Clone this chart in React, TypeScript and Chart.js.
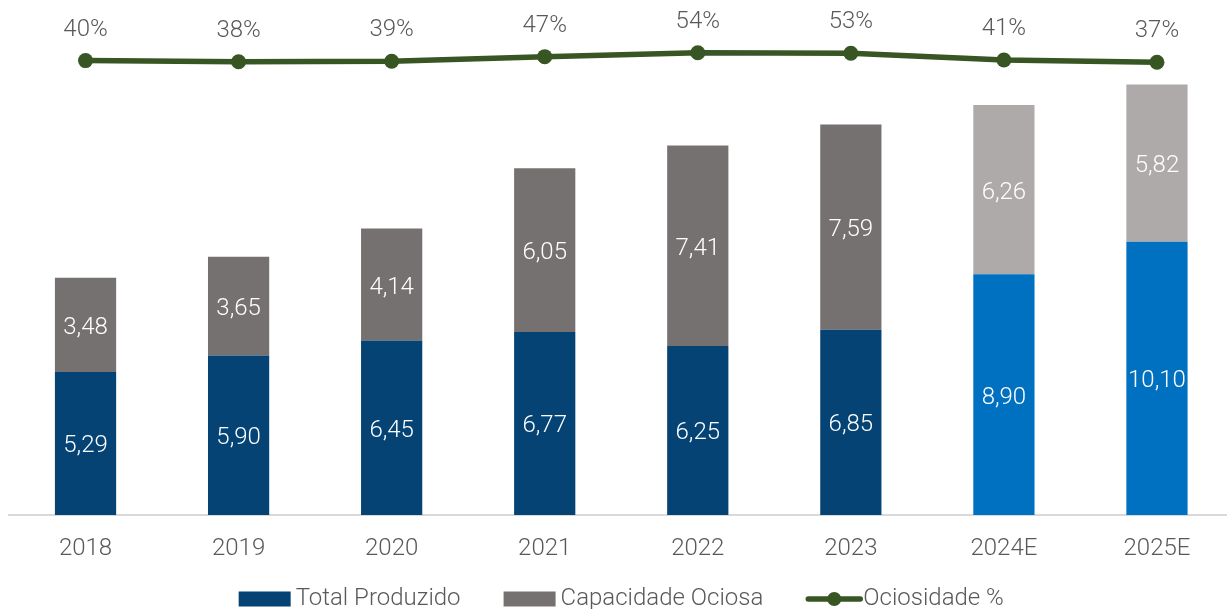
import React, { useEffect, useRef } from 'react';
import { Chart, registerables } from 'chart.js';

Chart.register(...registerables);

// ---- data ----
const categories = ['2018', '2019', '2020', '2021', '2022', '2023', '2024E', '2025E'];
const totalProduzido = [5.29, 5.9, 6.45, 6.77, 6.25, 6.85, 8.9, 10.1];
const capacidadeOciosa = [3.48, 3.65, 4.14, 6.05, 7.41, 7.59, 6.26, 5.82];
const ociosidadePct = [40, 38, 39, 47, 54, 53, 41, 37];

// ---- styles ----
const blueColors = ['#044373', '#044373', '#044373', '#044373', '#044373', '#044373', '#0070C0', '#0070C0'];
const grayColors = ['#767171', '#767171', '#767171', '#767171', '#767171', '#767171', '#AEAAAA', '#AEAAAA'];
const lineColor = '#375623';
const textColor = '#595959';
const FONT_FAMILY = 'Roboto';
const FONT_WEIGHT = '300';

const fmt = (v: number) => v.toFixed(2).replace('.', ',');

const labelsPlugin = {
  id: 'valueLabels',
  afterDatasetsDraw(chart: any) {
    const ctx = chart.ctx;
    ctx.save();
    ctx.font = `${FONT_WEIGHT} 24px ${FONT_FAMILY}`;
    ctx.textAlign = 'center';
    ctx.textBaseline = 'middle';
    chart.data.datasets.forEach((ds: any, i: number) => {
      const meta = chart.getDatasetMeta(i);
      meta.data.forEach((el: any, j: number) => {
        const v = ds.data[j] as number;
        if (meta.type === 'bar') {
          const p = el.getProps(['x', 'y', 'base'], true);
          ctx.fillStyle = '#ffffff';
          ctx.fillText(fmt(v), p.x, (p.y + p.base) / 2 + 3);
        } else {
          ctx.fillStyle = textColor;
          ctx.fillText(v + '%', el.x, el.y - 31);
        }
      });
    });
    ctx.restore();
  },
};

const legendPlugin = {
  id: 'bottomLegend',
  afterDraw(chart: any) {
    const ctx = chart.ctx;
    const area = chart.chartArea;
    ctx.save();
    ctx.font = `${FONT_WEIGHT} 24px ${FONT_FAMILY}`;
    ctx.textBaseline = 'middle';
    ctx.textAlign = 'left';
    const symW = 52;
    const gap = 5;
    const itemGap = 43;
    const items = chart.data.datasets.map((ds: any) => ({
      text: ds.label as string,
      type: ds.type === 'line' ? 'line' : 'bar',
      color: ds.type === 'line' ? ds.borderColor : (ds.backgroundColor as string[])[0],
    }));
    const widths = items.map((it: any) => symW + gap + ctx.measureText(it.text).width);
    const total = widths.reduce((a: number, b: number) => a + b, 0) + itemGap * (items.length - 1);
    let x = (area.left + area.right) / 2 - total / 2;
    const y = area.bottom + 84;
    items.forEach((it: any, k: number) => {
      if (it.type === 'bar') {
        ctx.fillStyle = it.color;
        ctx.fillRect(x, y - 7.5, symW, 15);
      } else {
        ctx.strokeStyle = it.color;
        ctx.lineWidth = 5.5;
        ctx.lineCap = 'round';
        ctx.beginPath();
        ctx.moveTo(x + 2, y);
        ctx.lineTo(x + symW + 2, y);
        ctx.stroke();
        ctx.fillStyle = it.color;
        ctx.beginPath();
        ctx.arc(x + symW / 2 + 2, y, 7, 0, Math.PI * 2);
        ctx.fill();
      }
      ctx.fillStyle = textColor;
      ctx.fillText(it.text, x + symW + gap, y);
      x += widths[k] + itemGap;
    });
    ctx.restore();
  },
};

export default function App() {
  const ref = useRef<HTMLCanvasElement | null>(null);

  useEffect(() => {
    if (!ref.current) return;
    const chart = new Chart(ref.current, {
      type: 'bar',
      data: {
        labels: categories,
        datasets: [
          {
            type: 'bar',
            label: 'Total Produzido',
            data: totalProduzido,
            backgroundColor: blueColors,
            borderWidth: 0,
            yAxisID: 'y',
            order: 2,
          } as any,
          {
            type: 'bar',
            label: 'Capacidade Ociosa',
            data: capacidadeOciosa,
            backgroundColor: grayColors,
            borderWidth: 0,
            yAxisID: 'y',
            order: 2,
          } as any,
          {
            type: 'line',
            label: 'Ociosidade %',
            data: ociosidadePct,
            borderColor: lineColor,
            backgroundColor: lineColor,
            borderWidth: 5.5,
            pointRadius: 7.5,
            pointBackgroundColor: lineColor,
            pointBorderWidth: 0,
            tension: 0,
            yAxisID: 'y2',
            order: 0,
          } as any,
        ],
      },
      options: {
        responsive: false,
        animation: false,
        devicePixelRatio: 1,
        layout: { padding: { left: 9, right: 2, top: 10, bottom: 65 } },
        datasets: { bar: { barPercentage: 0.4, categoryPercentage: 1 } } as any,
        plugins: {
          legend: { display: false },
          tooltip: { enabled: false },
        },
        scales: {
          x: {
            stacked: true,
            grid: { display: false },
            border: { display: true, color: '#d9d9d9', width: 2 },
            ticks: {
              color: textColor,
              padding: 12,
              font: { family: FONT_FAMILY, size: 24, weight: FONT_WEIGHT as any },
            },
            afterFit: (s: any) => {
              s.height = 50;
            },
          },
          y: { stacked: true, display: false, min: 0, max: 18.67 },
          y2: { display: false, min: -764.2, max: 129.6 },
        },
      },
      plugins: [labelsPlugin, legendPlugin],
    });
    return () => chart.destroy();
  }, []);

  return (
    <div
      style={{
        position: 'absolute',
        left: 0,
        top: 0,
        width: 1227,
        height: 609,
        overflow: 'hidden',
        background: '#ffffff',
      }}
    >
      <canvas ref={ref} width={1241} height={630} style={{ display: 'block' }} />
    </div>
  );
}
